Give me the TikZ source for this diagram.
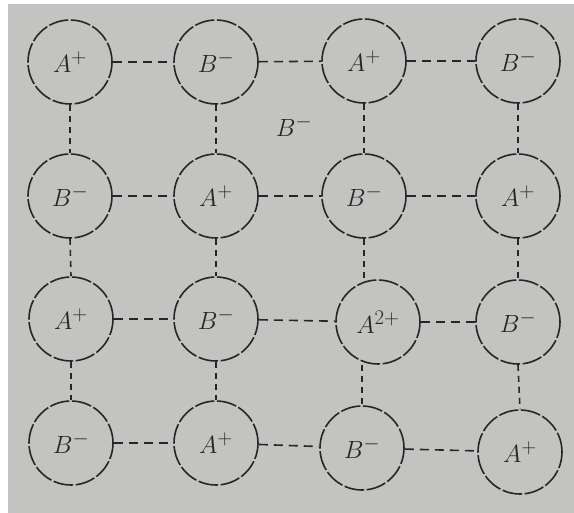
\documentclass[tikz,border=0pt]{standalone}
\usepackage{tikz}
\definecolor{paper}{HTML}{C3C3C1}
\definecolor{ink}{HTML}{262626}

\begin{document}
\begin{tikzpicture}[x=1pt, y=-1pt,
  ion/.style={circle, draw=ink, line width=1.6pt, dash pattern=on 20pt off 2.5pt,
    minimum size=84pt, inner sep=0pt, font=\fontsize{28}{32}\selectfont, text=ink},
  bond/.style={draw=ink, line width=1.6pt, dash pattern=on 9pt off 6pt},
  vbond/.style={draw=ink, line width=1.6pt, dash pattern=on 6pt off 5pt}]
  \useasboundingbox (0,0) rectangle (574,513);
  \fill[paper] (8,4) rectangle (574,513);

  % Lattice ions
  \foreach \name/\x/\y/\lab in {
    p00/70/62/{A^+}, p01/216/62/{B^-}, p02/364/61/{A^+}, p03/518/61/{B^-},
    p10/70/196/{B^-}, p11/216/196/{A^+}, p12/364/196/{B^-}, p13/518/196/{A^+},
    p20/71/319/{A^+}, p21/216/319/{B^-}, p22/378/322/{A^{2+}}, p23/518/322/{B^-},
    p30/71/443/{B^-}, p31/216/443/{A^+}, p32/362/448/{B^-}, p33/520/452/{A^+}
  } {
    \node[ion] (\name) at (\x,\y) {$\lab$};
  }

  % Vacancy ion
  \node[font=\fontsize{28}{32}\selectfont, text=ink] (vac) at (294,126) {$B^-$};

  % Bonds along rows
  \foreach \r in {0,...,3} {
    \foreach \c/\n in {0/1,1/2,2/3} {
      \draw[bond] (p\r\c) -- (p\r\n);
    }
  }

  % Bonds along columns
  \foreach \c in {0,1,3} {
    \foreach \r/\n in {0/1,1/2,2/3} {
      \draw[vbond] (p\r\c.south) -- (p\n\c.north);
    }
  }
  \draw[vbond] (p02.south) -- (p12.north);
  \draw[vbond] (p12.south) -- (p12.south |- p22.north);
  \draw[vbond] (p32.north |- p22.south) -- (p32.north);
\end{tikzpicture}
\end{document}
